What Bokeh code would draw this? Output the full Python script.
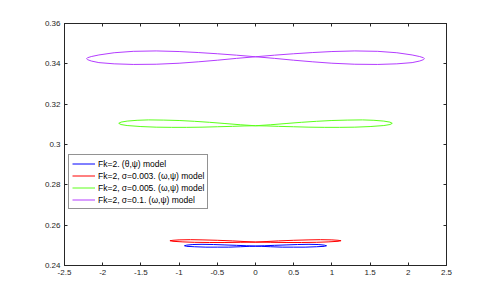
from bokeh.plotting import figure
from bokeh.models import Range1d, FixedTicker, LinearAxis, CustomLabelingPolicy
from bokeh.embed import file_html
from bokeh.resources import INLINE

# ---- data ----
x_ticks = [-2.5, -2, -1.5, -1, -0.5, 0, 0.5, 1, 1.5, 2, 2.5]
x_tick_labels = ["-2.5", "-2", "-1.5", "-1", "-0.5", "0", "0.5", "1", "1.5", "2", "2.5"]
y_ticks = [0.24, 0.26, 0.28, 0.30, 0.32, 0.34, 0.36]
y_tick_labels = ["0.24", "0.26", "0.28", "0.3", "0.32", "0.34", "0.36"]

series_labels = [
    "Fk=2. (θ,ψ) model",
    "Fk=2, σ=0.003. (ω,ψ) model",
    "Fk=2, σ=0.005. (ω,ψ) model",
    "Fk=2, σ=0.1. (ω,ψ) model",
]
series_colors = ["#0000ff", "#ff0000", "#5cff1a", "#b43cff"]

blue_x = [0, -0.12, -0.25, -0.4, -0.55, -0.7, -0.82, -0.9, -0.93,
          -0.9, -0.8, -0.65, -0.5, -0.35, -0.2, -0.08,
          0, 0.12, 0.25, 0.4, 0.55, 0.7, 0.82, 0.9, 0.93,
          0.9, 0.8, 0.65, 0.5, 0.35, 0.2, 0.08, 0]
blue_y = [0.2496, 0.2498, 0.2500, 0.2502, 0.2504, 0.2505, 0.2504, 0.2501, 0.2498,
          0.2495, 0.2493, 0.2491, 0.2491, 0.2491, 0.2493, 0.2495,
          0.2496, 0.2498, 0.2500, 0.2502, 0.2504, 0.2505, 0.2504, 0.2501, 0.2498,
          0.2495, 0.2493, 0.2491, 0.2491, 0.2491, 0.2493, 0.2495, 0.2496]

red_x = [0, -0.15, -0.3, -0.5, -0.7, -0.85, -1.0, -1.08, -1.12,
         -1.08, -0.95, -0.8, -0.6, -0.4, -0.2,
         0, 0.15, 0.3, 0.5, 0.7, 0.85, 1.0, 1.08, 1.12,
         1.08, 0.95, 0.8, 0.6, 0.4, 0.2, 0]
red_y = [0.2516, 0.2519, 0.2522, 0.2525, 0.2527, 0.2528, 0.2527, 0.2525, 0.2523,
         0.2520, 0.2517, 0.2515, 0.2514, 0.2514, 0.2515,
         0.2516, 0.2519, 0.2522, 0.2525, 0.2527, 0.2528, 0.2527, 0.2525, 0.2523,
         0.2520, 0.2517, 0.2515, 0.2514, 0.2514, 0.2515, 0.2516]

green_x = [0, -0.2, -0.4, -0.6, -0.8, -1.0, -1.2, -1.4, -1.55, -1.68, -1.76, -1.79,
           -1.76, -1.68, -1.5, -1.3, -1.1, -0.9, -0.7, -0.5, -0.3, -0.15,
           0, 0.2, 0.4, 0.6, 0.8, 1.0, 1.2, 1.4, 1.55, 1.68, 1.76, 1.79,
           1.76, 1.68, 1.5, 1.3, 1.1, 0.9, 0.7, 0.5, 0.3, 0.15, 0]
green_y = [0.3093, 0.3098, 0.3104, 0.3110, 0.3115, 0.3119, 0.3121, 0.3122, 0.3120, 0.3116, 0.3111, 0.3105,
           0.3099, 0.3094, 0.3089, 0.3086, 0.3085, 0.3085, 0.3086, 0.3088, 0.3090, 0.3092,
           0.3093, 0.3098, 0.3104, 0.3110, 0.3115, 0.3119, 0.3121, 0.3122, 0.3120, 0.3116, 0.3111, 0.3105,
           0.3099, 0.3094, 0.3089, 0.3086, 0.3085, 0.3085, 0.3086, 0.3088, 0.3090, 0.3092, 0.3093]

purple_x = [0, -0.25, -0.5, -0.75, -1.0, -1.3, -1.6, -1.85, -2.05, -2.15, -2.2, -2.21,
            -2.2, -2.15, -2.05, -1.85, -1.6, -1.3, -1.0, -0.75, -0.5, -0.25,
            0, 0.25, 0.5, 0.75, 1.0, 1.3, 1.6, 1.85, 2.05, 2.15, 2.2, 2.21,
            2.2, 2.15, 2.05, 1.85, 1.6, 1.3, 1.0, 0.75, 0.5, 0.25, 0]
purple_y = [0.3435, 0.3443, 0.3450, 0.3456, 0.3461, 0.3464, 0.3462, 0.3455, 0.3444, 0.3436, 0.3430, 0.3426,
            0.3421, 0.3414, 0.3406, 0.3400, 0.3397, 0.3398, 0.3403, 0.3410, 0.3418, 0.3427,
            0.3435, 0.3443, 0.3450, 0.3456, 0.3461, 0.3464, 0.3462, 0.3455, 0.3444, 0.3436, 0.3430, 0.3426,
            0.3421, 0.3414, 0.3406, 0.3400, 0.3397, 0.3398, 0.3403, 0.3410, 0.3418, 0.3427, 0.3435]

series_x = [blue_x, red_x, green_x, purple_x]
series_y = [blue_y, red_y, green_y, purple_y]

# ---- figure ----
FONT = "Liberation Sans"
AX = "#262626"

p = figure(width=477, height=283, output_backend="svg", toolbar_location=None,
           x_range=Range1d(-2.5, 2.5), y_range=Range1d(0.24, 0.36),
           min_border_left=64, min_border_right=31, min_border_top=23, min_border_bottom=18)
p.grid.visible = False
p.outline_line_color = AX
p.outline_line_width = 1
p.background_fill_color = "white"
p.border_fill_color = "white"

for xs, ys, c, lab in zip(series_x, series_y, series_colors, series_labels):
    p.line(xs, ys, line_color=c, line_width=1, legend_label=lab)

def style_axis(ax, ticks, labels, show_labels=True):
    ax.ticker = FixedTicker(ticks=ticks)
    ax.major_tick_in = 3
    ax.major_tick_out = 0
    ax.minor_tick_line_color = None
    ax.axis_line_color = AX
    ax.major_tick_line_color = AX
    ax.major_label_text_font = FONT
    ax.major_label_text_color = "#262626"
    ax.major_label_text_font_size = "8px"
    if show_labels:
        ax.major_label_overrides = {t: l for t, l in zip(ticks, labels)}
        ax.major_label_standoff = 4
    else:
        ax.major_label_policy = CustomLabelingPolicy(code="return new Set()")
        ax.major_label_standoff = 0

style_axis(p.xaxis[0], x_ticks, x_tick_labels)
style_axis(p.yaxis[0], y_ticks, y_tick_labels)

top_ax = LinearAxis()
right_ax = LinearAxis()
style_axis(top_ax, x_ticks, x_tick_labels, show_labels=False)
style_axis(right_ax, y_ticks, y_tick_labels, show_labels=False)
p.add_layout(top_ax, "above")
p.add_layout(right_ax, "right")

lg = p.legend[0]
lg.location = (4, 56)
lg.label_text_font = FONT
lg.label_text_font_size = "8.5px"
lg.label_text_color = "black"
lg.glyph_width = 23
lg.glyph_height = 11
lg.label_height = 11
lg.label_standoff = 3
lg.spacing = 1
lg.padding = 3
lg.margin = 0
lg.border_line_color = AX
lg.border_line_width = 1
lg.background_fill_color = "white"
lg.background_fill_alpha = 1

open("out.html", "w").write(file_html(p, INLINE))
